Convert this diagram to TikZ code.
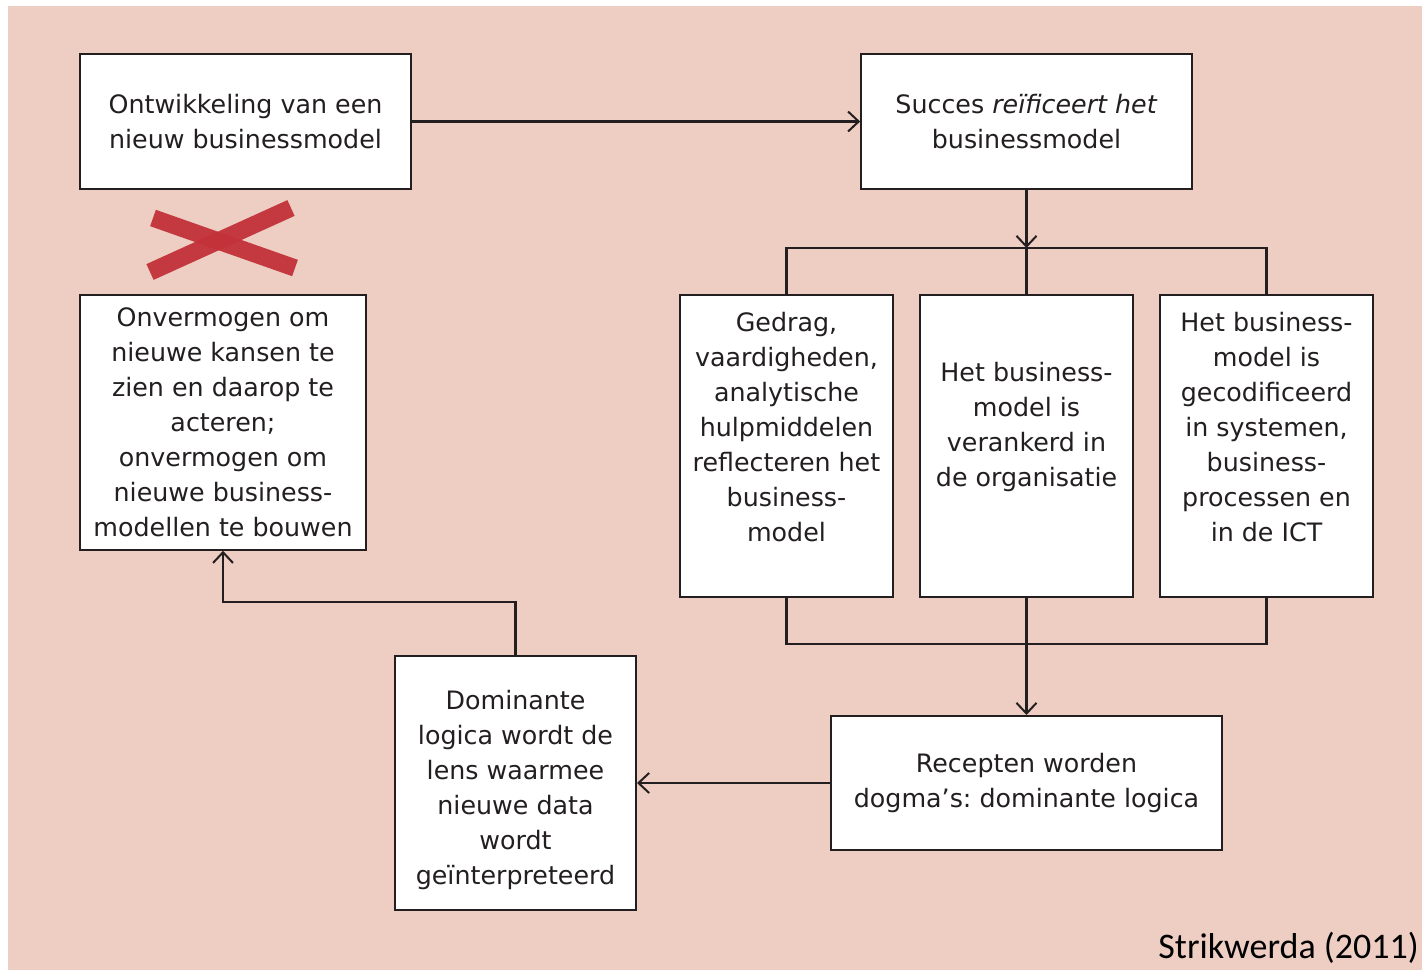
\documentclass[tikz,border=0pt]{standalone}
\usepackage{fontspec}
\setmainfont{DejaVu Sans}
\newfontfamily\bronfont{Carlito}
\usepackage{tikz}
\usetikzlibrary{positioning, arrows.meta, calc}
\frenchspacing

\definecolor{achtergrond}{RGB}{238,205,195}
\definecolor{kruisrood}{RGB}{194,50,56}
\definecolor{lijnkleur}{RGB}{35,31,32}

\begin{document}
\begin{tikzpicture}[
            x=0.75pt, y=-0.75pt,
            blok/.style={draw=lijnkleur, line width=1.5pt, fill=white, rectangle, inner sep=2pt, align=center,
                         font=\fontsize{19}{26.25}\selectfont, text=lijnkleur},
            bloktekst/.style={align=center, font=\fontsize{19}{26.25}\selectfont, text=lijnkleur},
            lijn/.style={draw=lijnkleur, line width=1.6pt},
            pijl/.style={lijn, -{Straight Barb[length=8pt, width=15pt, line width=1.5pt]}},
            kruis/.style={draw=kruisrood, line width=13pt, opacity=0.95},
            bron/.style={font=\bronfont\fontsize{27}{32}\selectfont, inner sep=0pt}
        ]

        % Achtergrond
        \useasboundingbox (0,0) rectangle (1422,973);
        \fill[achtergrond] (8,6) rectangle (1422,970);

        % Blokken
        \node[blok, minimum width=248pt, minimum height=101pt] (a) at (245.5,121.5)
            {Ontwikkeling van een\\nieuw businessmodel};
        \node[blok, minimum width=248pt, minimum height=101pt] (b) at (1026.5,121.5)
            {Succes \textit{reïficeert het}\\businessmodel};
        \node[blok, minimum width=214.5pt, minimum height=191pt] (c) at (223,422.5)
            {Onvermogen om\\nieuwe kansen te\\zien en daarop te\\acteren;\\onvermogen om\\nieuwe business-\\modellen te bouwen};
        \node[blok, minimum width=159.75pt, minimum height=226.5pt,
              label={[bloktekst, yshift=14pt]center:{Gedrag,\\vaardigheden,\\analytische\\hulpmiddelen\\reflecteren het\\business-\\model}}]
              (d1) at (786.5,446) {};
        \node[blok, minimum width=159.75pt, minimum height=226.5pt, right=18.75pt of d1,
              label={[bloktekst, yshift=14pt]center:{Het business-\\model is\\verankerd in\\de organisatie}}]
              (d2) {};
        \node[blok, minimum width=159.75pt, minimum height=226.5pt, right=18.75pt of d2,
              label={[bloktekst, yshift=14pt]center:{Het business-\\model is\\gecodificeerd\\in systemen,\\business-\\processen en\\in de ICT}}]
              (d3) {};
        \node[blok, minimum width=293pt, minimum height=100.5pt] (e) at (1026.5,783)
            {Recepten worden\\dogma’s: dominante logica};
        \node[blok, minimum width=180.75pt, minimum height=191pt,
              label={[bloktekst, yshift=-5pt]center:{Dominante\\logica wordt de\\lens waarmee\\nieuwe data\\wordt\\geïnterpreteerd}}]
              (f) at (515.5,783) {};

        \node[bron, anchor=base east] (bron) at (1419,958) {Strikwerda (2011)};

        % Verbindingen
        \coordinate (splits) at (d2.north |- 0,248);
        \coordinate (samen) at (d2.south |- 0,644);
        \draw[pijl] (a) -- (b);
        \draw[pijl] (b) -- (splits);
        \draw[lijn] (d1.north) |- (splits) -| (d3.north);
        \draw[lijn] (splits) -- (d2.north);
        \draw[lijn] (d1.south) |- (samen) -| (d3.south);
        \draw[pijl] (d2.south) -- (e.north);
        \draw[pijl] (e) -- (f);
        \draw[pijl] (f.north) -- ++(0,-53) -| (c.south);

        % Kruis
        \draw[kruis] (153,218) -- (295,268);
        \draw[kruis] (150,272) -- (291,208);

    \end{tikzpicture}
\end{document}
